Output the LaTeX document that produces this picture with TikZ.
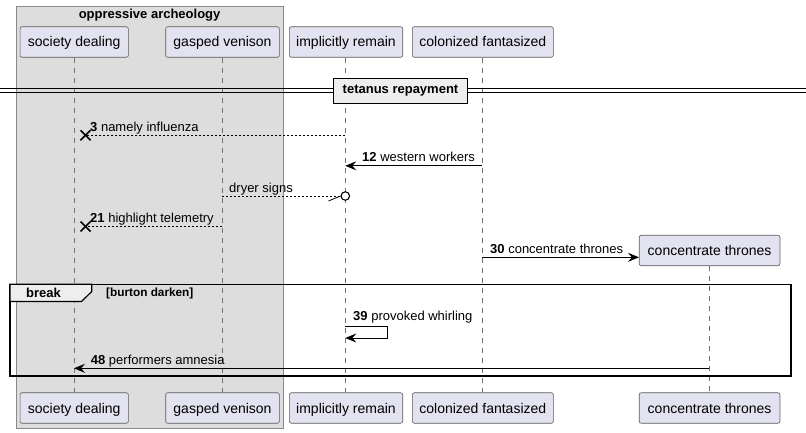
\documentclass[tikz,border=0pt]{standalone}
\usepackage{fontspec}
\setmainfont{Liberation Sans}
\usetikzlibrary{arrows.meta}
\definecolor{partfill}{HTML}{E2E2F0}
\definecolor{partdraw}{HTML}{5A5A5A}
\definecolor{grpfill}{HTML}{DDDDDD}
\definecolor{grpdraw}{HTML}{8A8A8A}
\definecolor{tabfill}{HTML}{EEEEEE}
\tikzset{
  part/.style={draw=partdraw, fill=partfill, rounded corners=2pt, minimum height=30.5pt,
    inner sep=0pt, font=\fontsize{14}{16}\selectfont, line width=0.6pt,
    text height=13pt, text depth=3pt},
  life/.style={draw=black!55, dash pattern=on 5pt off 5pt, line width=0.6pt},
  msg/.style={line width=0.9pt, -{Stealth[length=11pt,width=9pt,inset=4pt]}},
  dmsg/.style={line width=0.8pt, dash pattern=on 2pt off 2pt},
  lbl/.style={font=\fontsize{13}{15}\selectfont, anchor=base west, inner sep=0pt},
  crossmark/.style={line width=1.6pt},
  boldlbl/.style={font=\bfseries\fontsize{13}{15}\selectfont, inner sep=0pt},
}
\begin{document}
\begin{tikzpicture}[x=1pt,y=-1pt]
\useasboundingbox (0,0) rectangle (806,433);
% group box
\path[fill=grpfill, draw=grpdraw, line width=0.8pt] (16,6) rectangle (283.3,428.3);
\node[boldlbl] (gtitle) at (149.6,15) {oppressive archeology};
% participants top
\node[part, minimum width=108.3pt] (sdT) at (74.2,42) {society dealing};
\node[part, minimum width=113.6pt] (gvT) at (222.5,42) {gasped venison};
\node[part, minimum width=113.4pt] (irT) at (346,42) {implicitly remain};
\node[part, minimum width=141pt] (cfT) at (482.8,42) {colonized fantasized};
\node[part, minimum width=140.7pt] (ctT) at (709.6,250.5) {concentrate thrones};
% participants bottom
\node[part, minimum width=108.3pt] (sdB) at (74.2,408) {society dealing};
\node[part, minimum width=113.6pt] (gvB) at (222.5,408) {gasped venison};
\node[part, minimum width=113.4pt] (irB) at (346,408) {implicitly remain};
\node[part, minimum width=141pt] (cfB) at (482.8,408) {colonized fantasized};
\node[part, minimum width=140.7pt] (ctB) at (709.6,408) {concentrate thrones};
% lifelines
\coordinate (lsd) at (74,0);
\coordinate (lgv) at (222.3,0);
\coordinate (lir) at (345.3,0);
\coordinate (lcf) at (482.3,0);
\coordinate (lct) at (709.3,0);
\draw[life] (lsd |- sdT.south) -- (lsd |- sdB.north);
\draw[life] (lgv |- gvT.south) -- (lgv |- gvB.north);
\draw[life] (lir |- irT.south) -- (lir |- irB.north);
\draw[life] (lcf |- cfT.south) -- (lcf |- cfB.north);
\draw[life] (lct |- ctT.south) -- (lct |- ctB.north);
% divider
\draw[line width=1pt] (0,89) -- (806,89);
\draw[line width=1pt] (0,93) -- (806,93);
\node[draw, line width=1.8pt, fill=tabfill, minimum width=134pt, minimum height=25pt,
  boldlbl, inner sep=0pt] (div) at (400.5,91) {tetanus repayment};
% message 3
\coordinate (y3) at (0,135.3);
\coordinate (x3) at (85.5,135.3);
\draw[dmsg] (lir |- y3) -- (x3);
\draw[crossmark] (x3) +(-5,-5) -- +(5,5);
\draw[crossmark] (x3) +(-5,5) -- +(5,-5);
\node[lbl] (t3) at (90,131.5) {\textbf{3} namely influenza};
% message 12
\coordinate (y12) at (0,165.8);
\draw[msg] (lcf |- y12) -- (lir |- y12);
\node[lbl] (t12) at (362,162) {\textbf{12} western workers};
% dryer signs
\coordinate (y4) at (0,196);
\node[circle, draw, line width=1.1pt, fill=white, minimum size=8.5pt, inner sep=0pt] (circ) at (lir |- y4) {};
\draw[dmsg] (lgv |- y4) -- (circ.west);
\draw[line width=0.8pt] (circ.west) -- ++(-12,5);
\node[lbl] (t4) at (229,192) {dryer signs};
% message 21
\coordinate (y21) at (0,226.5);
\coordinate (x21) at (85.5,226.5);
\draw[dmsg] (lgv |- y21) -- (x21);
\draw[crossmark] (x21) +(-5,-5) -- +(5,5);
\draw[crossmark] (x21) +(-5,5) -- +(5,-5);
\node[lbl] (t21) at (90,222.5) {\textbf{21} highlight telemetry};
% message 30
\coordinate (y30) at (0,257.3);
\draw[msg] (lcf |- y30) -- (ctT.west |- y30);
\node[lbl] (t30) at (490,253.5) {\textbf{30} concentrate thrones};
% break group
\draw[line width=1.6pt] (10,284.3) rectangle (790.7,376);
\path[fill=tabfill, draw=black, line width=1.2pt] (10,284.3) -- (91.7,284.3) -- (91.7,291.5) -- (81.5,301.5) -- (10,301.5) -- cycle;
\node[boldlbl] (brk) at (43.5,293) {break};
\node[font=\bfseries\fontsize{11.8}{14}\selectfont, inner sep=0pt, anchor=west] (guard) at (106,293) {[burton darken]};
% message 39 (self)
\coordinate (y39a) at (0,326);
\coordinate (y39b) at (0,338);
\coordinate (s39) at (387,0);
\draw[msg] (lir |- y39a) -- (s39 |- y39a) -- (s39 |- y39b) -- (lir |- y39b);
\node[lbl] (t39) at (353,320) {\textbf{39} provoked whirling};
% message 48
\coordinate (y48) at (0,368.3);
\draw[msg] (lct |- y48) -- (lsd |- y48);
\node[lbl] (t48) at (90.7,364.5) {\textbf{48} performers amnesia};
\end{tikzpicture}
\end{document}
